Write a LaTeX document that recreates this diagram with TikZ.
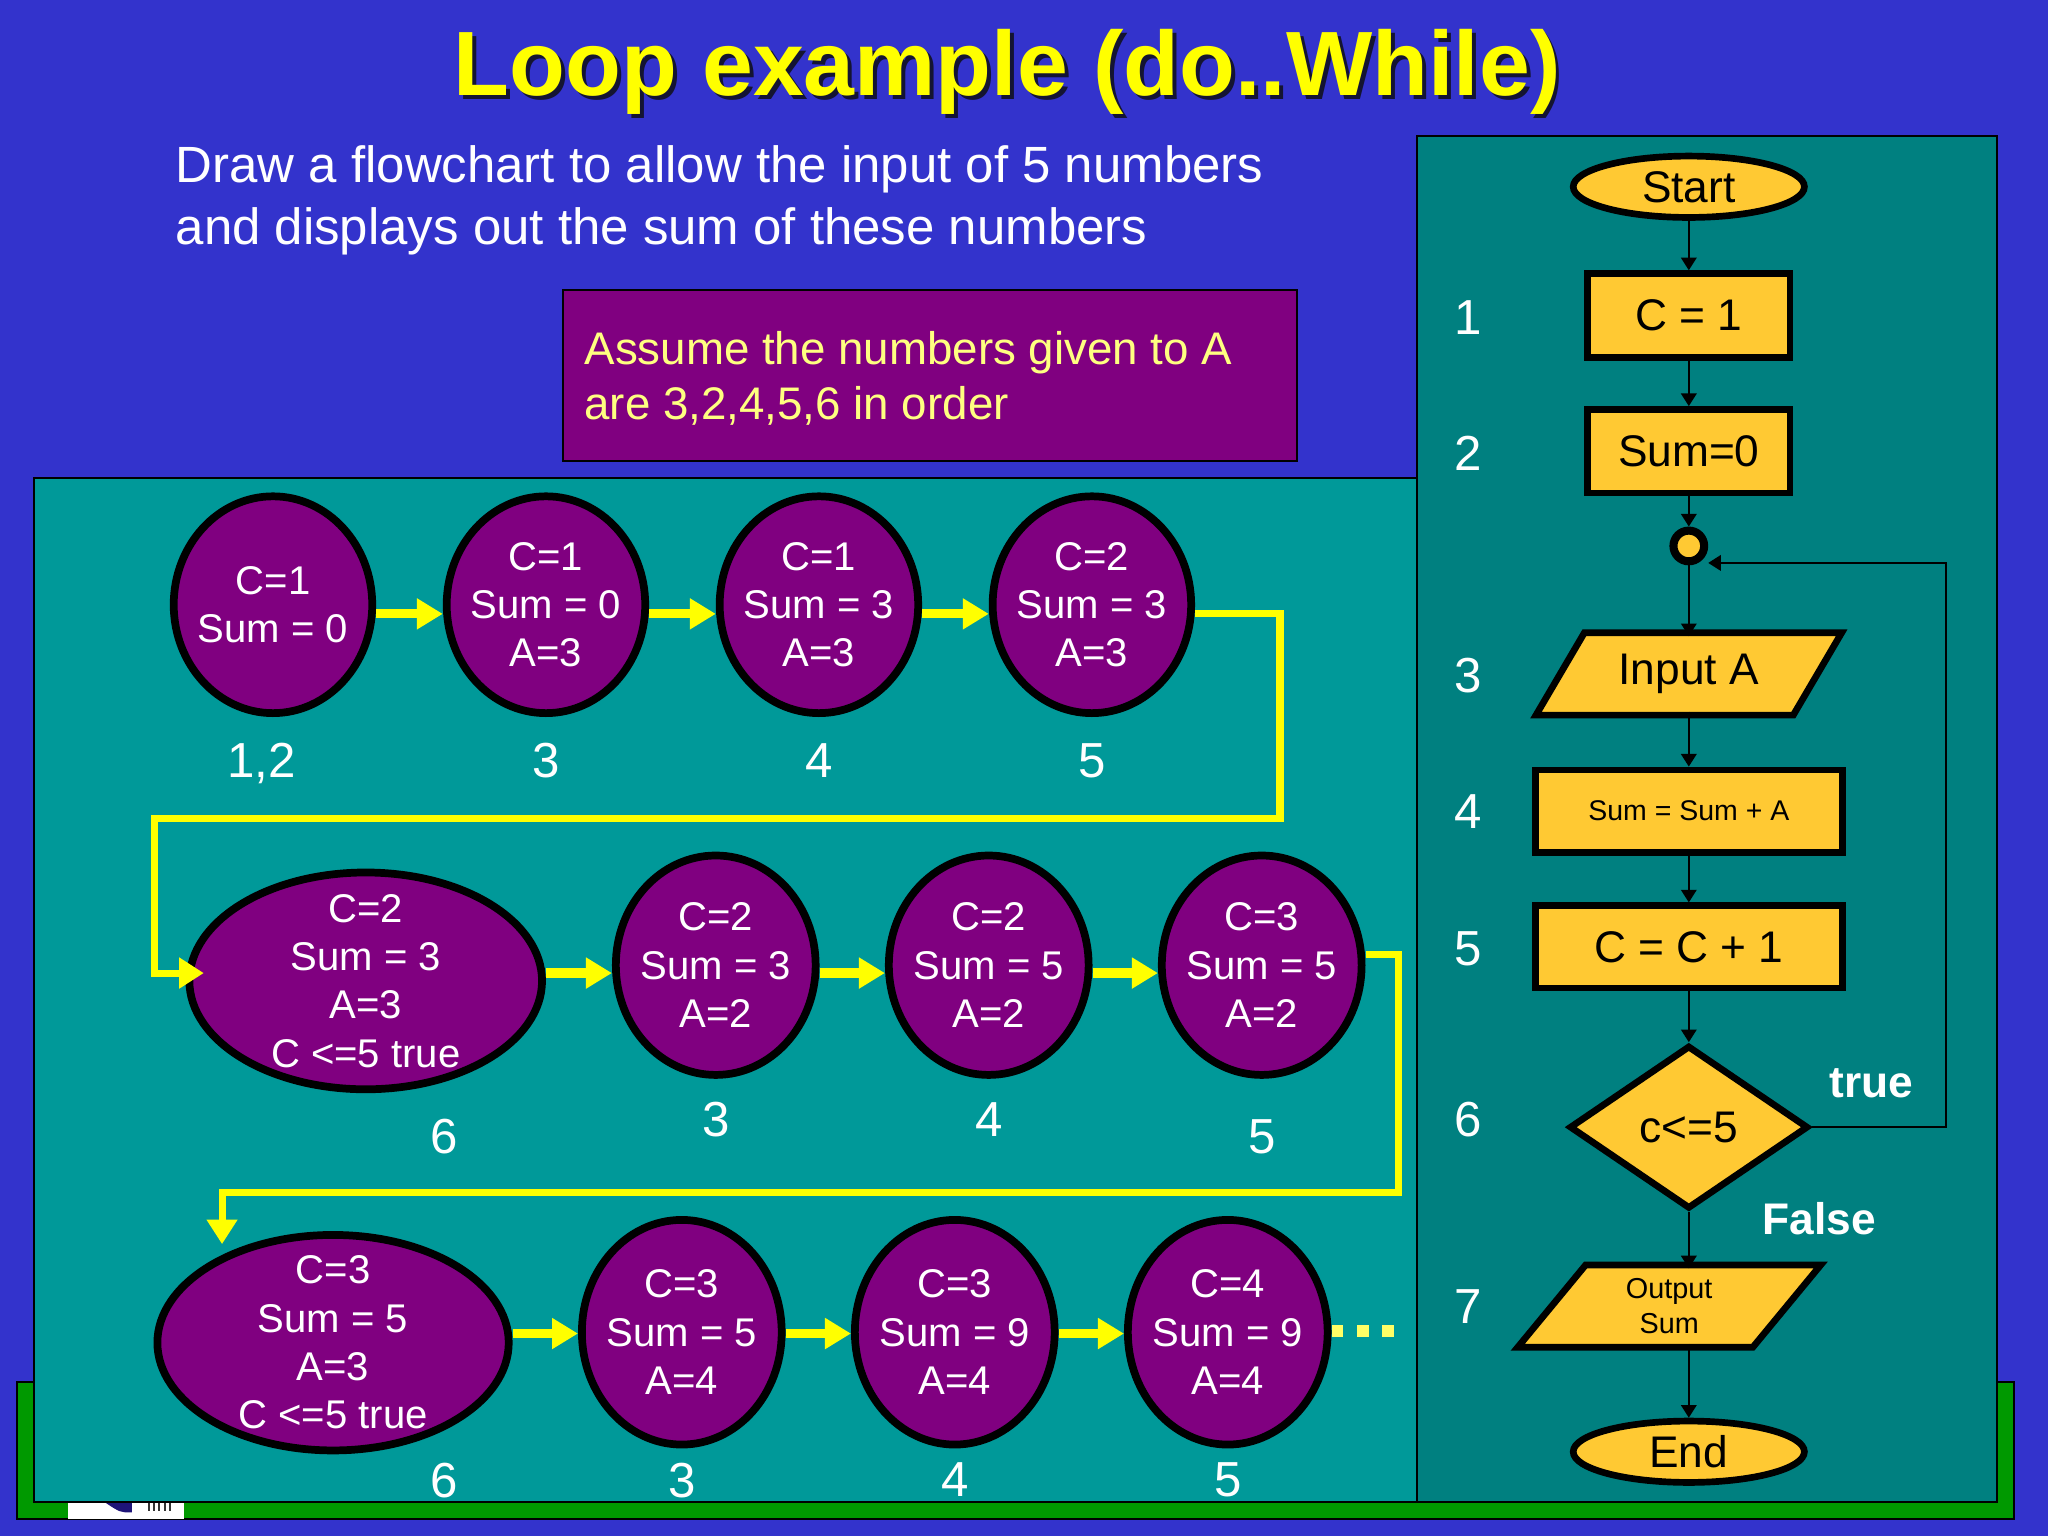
\documentclass[tikz,border=0pt]{standalone}
\usepackage{fontspec}
\setmainfont{Liberation Sans}
\usetikzlibrary{shapes.geometric,arrows.meta}
\newlength\pxu
\setlength\pxu{0.013061cm}
\definecolor{bgblue}{RGB}{51,51,204}
\definecolor{tealL}{RGB}{0,153,153}
\definecolor{tealR}{RGB}{0,128,128}
\definecolor{sgreen}{RGB}{0,153,0}
\definecolor{spurple}{RGB}{128,0,128}
\definecolor{fyel}{RGB}{255,201,51}
\definecolor{arryel}{RGB}{255,255,0}
\definecolor{paleyel}{RGB}{255,255,128}
\definecolor{dotyel}{RGB}{255,255,102}
\definecolor{shadowc}{RGB}{20,20,50}
\definecolor{logonavy}{RGB}{30,20,120}
\begin{document}
\begin{tikzpicture}[x=\pxu,y=-\pxu,
  state/.style={ellipse, draw=black, line width=2.2pt, fill=spurple, inner sep=0pt, outer sep=1.1pt},
  stxt/.style={text=white, align=center, inner sep=0pt, font=\fontsize{11.4}{13.75}\selectfont},
  num/.style={text=white, inner sep=0pt, text depth=0pt, font=\fontsize{14}{16}\selectfont},
  yarr/.style={draw=arryel, line width=2.6pt, -{Triangle[length=7.4pt,width=8.4pt]}},
  ylink/.style={draw=arryel, line width=2pt, line join=miter, -{Triangle[length=7pt,width=8.4pt]}},
  fshape/.style={draw=black, line width=1.9pt, fill=fyel, inner sep=0pt, outer sep=0.95pt, font=\fontsize{12.6}{14}\selectfont},
  fterm/.style={fshape, ellipse, minimum width=177\pxu, minimum height=47\pxu},
  fproc/.style={fshape, rectangle},
  fbody/.style={rectangle, inner sep=0pt, outer sep=0pt, minimum height=63\pxu},
  fpoly/.style={draw=black, line width=1.9pt, fill=fyel, line join=miter},
  ftxt/.style={inner sep=0pt, font=\fontsize{12.6}{14}\selectfont},
  farr/.style={draw=black, line width=0.6pt, -{Triangle[length=3.6pt,width=4.4pt]}},
  tag/.style={text=white, font=\bfseries\fontsize{12.6}{14}\selectfont, inner sep=0pt}
]
\useasboundingbox (0,0) rectangle (1568,1176);
\fill[bgblue] (0,0) rectangle (1568,1176);

% green strip and logo
\filldraw[fill=sgreen, draw=black, line width=0.6pt] (13,1058) rectangle (1542,1163);
\fill[white] (52,1150) rectangle (141,1163);
\fill[logonavy] (80,1150) -- (101,1150) -- (101,1158) .. controls (92,1158) .. (80,1150) -- cycle;
\foreach \xx in {114,118,122,126,130} \draw[line width=0.6pt, black!80] (\xx,1151) -- (\xx,1157);

% panels
\filldraw[fill=tealL, draw=black, line width=0.6pt] (26,366) rectangle (1090,1150);
\filldraw[fill=tealR, draw=black, line width=0.6pt] (1085,104) rectangle (1529,1150);

% title
\node[anchor=base, inner sep=0pt, text=shadowc, font=\bfseries\fontsize{26}{30}\selectfont] (titleshadow) at (774,76) {Loop example (do..While)};
\node[anchor=base, inner sep=0pt, text=arryel, font=\bfseries\fontsize{26}{30}\selectfont] (title) at (771,73) {Loop example (do..While)};

% subtitle
\node[anchor=north west, inner sep=0pt, align=left, text=white, font=\fontsize{14.5}{17.5}\selectfont] (sub) at (134,111) {Draw a flowchart to allow the input of 5 numbers\\and displays out the sum of these numbers};

% assumption box
\filldraw[fill=spurple, draw=black, line width=0.8pt] (431,222) rectangle (993,353);
\node[anchor=north west, inner sep=0pt, align=left, text=paleyel, font=\fontsize{13}{15.6}\selectfont] (assume) at (447,253) {Assume the numbers given to A\\are 3,2,4,5,6 in order};

% row 1
\node[state, minimum width=152\pxu, minimum height=166\pxu] (c1) at (209,463) {};
\node[state, minimum width=152\pxu, minimum height=166\pxu] (c2) at (418,463) {};
\node[state, minimum width=152\pxu, minimum height=166\pxu] (c3) at (627,463) {};
\node[state, minimum width=152\pxu, minimum height=166\pxu] (c4) at (836,463) {};
\node[stxt] (t1) at (c1) {C=1\\Sum = 0};
\node[stxt] (t2) at (c2) {C=1\\Sum = 0\\A=3};
\node[stxt] (t3) at (c3) {C=1\\Sum = 3\\A=3};
\node[stxt] (t4) at (c4) {C=2\\Sum = 3\\A=3};
\node[num] (n1) at (200,582) {1,2};
\node[num] (n2) at (418,582) {3};
\node[num] (n3) at (627,582) {4};
\node[num] (n4) at (836,582) {5};

% row 2
\node[state, minimum width=270\pxu, minimum height=166\pxu] (c5) at (280,751) {};
\node[state, minimum width=153\pxu, minimum height=168\pxu] (c6) at (548,739) {};
\node[state, minimum width=153\pxu, minimum height=168\pxu] (c7) at (757,739) {};
\node[state, minimum width=153\pxu, minimum height=168\pxu] (c8) at (966,739) {};
\node[stxt] (t5) at (c5) {C=2\\Sum = 3\\A=3\\C <=5 true};
\node[stxt] (t6) at (c6) {C=2\\Sum = 3\\A=2};
\node[stxt] (t7) at (c7) {C=2\\Sum = 5\\A=2};
\node[stxt] (t8) at (c8) {C=3\\Sum = 5\\A=2};
\node[num] (n5) at (340,870) {6};
\node[num] (n6) at (548,857) {3};
\node[num] (n7) at (757,857) {4};
\node[num] (n8) at (966,870) {5};

% row 3
\node[state, minimum width=269\pxu, minimum height=165\pxu] (c9) at (255,1028) {};
\node[state, minimum width=153\pxu, minimum height=172\pxu] (c10) at (522,1020) {};
\node[state, minimum width=153\pxu, minimum height=172\pxu] (c11) at (731,1020) {};
\node[state, minimum width=153\pxu, minimum height=172\pxu] (c12) at (940,1020) {};
\node[stxt] (t9) at (c9) {C=3\\Sum = 5\\A=3\\C <=5 true};
\node[stxt] (t10) at (c10) {C=3\\Sum = 5\\A=4};
\node[stxt] (t11) at (c11) {C=3\\Sum = 9\\A=4};
\node[stxt] (t12) at (c12) {C=4\\Sum = 9\\A=4};
\node[num] (n9) at (340,1133) {6};
\node[num] (n10) at (522,1133) {3};
\node[num] (n11) at (731,1133) {4};
\node[num] (n12) at (940,1133) {5};

% yellow arrows
\draw[yarr] ([yshift=-7\pxu]c1.east) -- ([yshift=-7\pxu]c2.west);
\draw[yarr] ([yshift=-7\pxu]c2.east) -- ([yshift=-7\pxu]c3.west);
\draw[yarr] ([yshift=-7\pxu]c3.east) -- ([yshift=-7\pxu]c4.west);
\draw[yarr] ([yshift=6\pxu]c5.east) -- ([yshift=-6\pxu]c6.west);
\draw[yarr] ([yshift=-6\pxu]c6.east) -- ([yshift=-6\pxu]c7.west);
\draw[yarr] ([yshift=-6\pxu]c7.east) -- ([yshift=-6\pxu]c8.west);
\draw[yarr] ([yshift=7\pxu]c9.east) -- ([yshift=-1\pxu]c10.west);
\draw[yarr] ([yshift=-1\pxu]c10.east) -- ([yshift=-1\pxu]c11.west);
\draw[yarr] ([yshift=-1\pxu]c11.east) -- ([yshift=-1\pxu]c12.west);

\coordinate (k1) at (980,627);
\coordinate (k2) at (118,627);
\coordinate (k3) at (1071,913);
\coordinate (k4) at (170,913);
\coordinate (dotend) at (1068,1019);
\draw[ylink, shorten >=-14\pxu] ([yshift=-7\pxu]c4.east) -| (k1) -- (k2) |- ([yshift=6\pxu]c5.west);
\draw[ylink, shorten >=-10\pxu] ([yshift=8\pxu]c8.east) -| (k3) -| (k4 |- c9.north);
\draw[draw=dotyel, line width=9\pxu, dash pattern=on 9\pxu off 10.5\pxu] ([yshift=1\pxu]c12.east) -- (dotend);

% flowchart
\node[fterm] (f0) at (1293,143) {Start};
\node[fproc, minimum width=155\pxu, minimum height=64\pxu] (f1) at (1293,241.5) {C = 1};
\node[fproc, minimum width=155\pxu, minimum height=64\pxu] (f2) at (1293,345.5) {Sum=0};
\node[circle, draw=black, line width=2.3pt, fill=fyel, minimum size=23.5\pxu, inner sep=0pt, outer sep=1.15pt] (jn) at (1293,418) {};

\node[fbody, minimum width=197\pxu] (f3) at (1293,516) {};
\filldraw[fpoly] ([xshift=18.5\pxu]f3.north west) -- ([xshift=18.5\pxu]f3.north east) -- ([xshift=-18.5\pxu]f3.south east) -- ([xshift=-18.5\pxu]f3.south west) -- cycle;
\node[ftxt] (f3t) at (f3) {Input A};

\node[fproc, minimum width=235\pxu, minimum height=63\pxu, font=\fontsize{8.1}{10}\selectfont] (f4) at (1293,621) {Sum = Sum + A};
\node[fproc, minimum width=235\pxu, minimum height=63\pxu] (f5) at (1293,725) {C = C + 1};
\node[fshape, diamond, aspect=1.46, minimum width=183\pxu, minimum height=125\pxu] (f6) at (1293,863) {c<=5};

\node[fbody, minimum width=180\pxu] (f7) at (1278,1000) {};
\filldraw[fpoly] ([xshift=26\pxu]f7.north west) -- ([xshift=26\pxu]f7.north east) -- ([xshift=-26\pxu]f7.south east) -- ([xshift=-26\pxu]f7.south west) -- cycle;
\node[ftxt, align=center, font=\fontsize{8.2}{9.7}\selectfont] (f7t) at (f7) {Output\\Sum};

\node[fterm] (f8) at (1293,1111.5) {End};

\draw[farr] (f0.south) -- (f1.north);
\draw[farr] (f1.south) -- (f2.north);
\draw[farr] (f2.south) -- (jn.north);
\draw[farr, shorten >=-2.6\pxu] (jn.south) -- (f3.north);
\draw[farr, shorten <=-2.6\pxu] (f3.south) -- (f4.north);
\draw[farr] (f4.south) -- (f5.north);
\draw[farr] (f5.south) -- (f6.north);
\draw[farr, shorten >=-2.6\pxu] (f6.south) -- (f6.south |- f7.north);
\draw[farr, shorten <=-2.6\pxu] (f8.north |- f7.south) -- (f8.north);
\coordinate (k5) at (1490,431);
\draw[farr] (f6.east) -| (k5) -- (k5 -| jn.east);

\node[tag] (ttrue) at (1433,829) {true};
\node[tag] (tfalse) at (1393,933) {False};

\node[num] (s1) at (1124,243) {1};
\node[num] (s2) at (1124,347) {2};
\node[num] (s3) at (1124,517) {3};
\node[num] (s4) at (1124,621) {4};
\node[num] (s5) at (1124,726) {5};
\node[num] (s6) at (1124,857) {6};
\node[num] (s7) at (1124,1000) {7};
\end{tikzpicture}
\end{document}
